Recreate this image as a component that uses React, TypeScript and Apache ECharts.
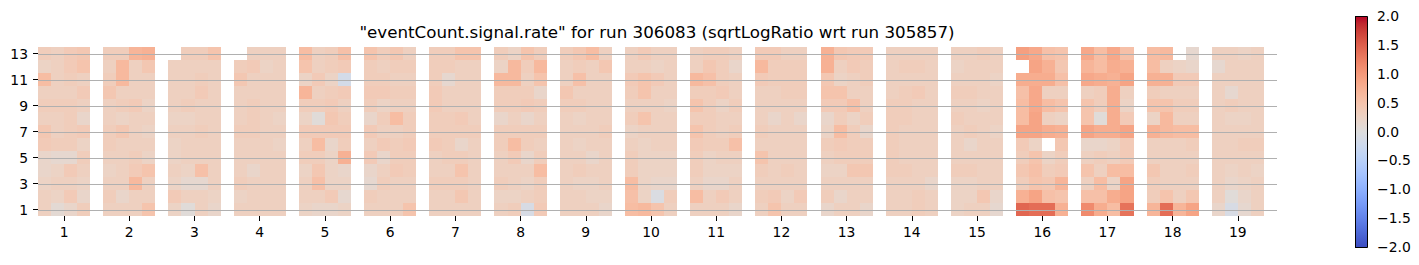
import React, { useEffect, useRef } from "react";
import * as echarts from "echarts";

const titleText = '"eventCount.signal.rate" for run 306083 (sqrtLogRatio wrt run 305857)';
const xLabels = ["1","2","3","4","5","6","7","8","9","10","11","12","13","14","15","16","17","18","19"];
const yTickValues = [1, 3, 5, 7, 9, 11, 13];
const colorbarTicks = [-2, -1.5, -1, -0.5, 0, 0.5, 1, 1.5, 2];
const colsPerGroup = 4;
const slotsPerGroup = 5;
const nRows = 13;

// each group: rows 13 (top) down to 1, 4 columns each; null = missing cell
const G1 = [[0.35,0.3,0.4,0.45],[0.25,0.3,0.4,0.5],[0.6,0.3,0.35,0.3],[0.3,0.3,0.3,0.4],[0.35,0.35,0.35,0.3],[0.3,0.3,0.35,0.2],[0.45,0.3,0.35,0.4],[0.4,0.35,0.35,0.25],[0.2,0.15,0.15,0.35],[0.2,0.25,0.4,0.3],[0.25,0.3,0.3,0.25],[0.3,0.25,0.4,0.2],[0.3,0.1,0.2,0.35]];
const G2 = [[0.35,0.35,0.7,0.75],[0.3,0.65,0.3,0.45],[0.35,0.65,0.3,0.3],[0.45,0.3,0.3,0.3],[0.3,0.35,0.4,0.25],[0.3,0.25,0.3,0.3],[0.35,0.45,0.3,0.25],[0.35,0.3,0.3,0.3],[0.3,0.3,0.35,0.25],[0.25,0.3,0.4,0.5],[0.3,0.3,0.65,0.3],[0.35,0.2,0.3,0.3],[0.3,0.3,0.3,0.5]];
const G3 = [[null,0.35,0.35,0.5],[0.3,0.3,0.3,0.3],[0.3,0.3,0.35,0.3],[0.3,0.3,0.4,0.3],[0.3,0.35,0.3,0.3],[0.25,0.25,0.3,0.3],[0.3,0.3,0.35,0.3],[0.25,0.3,0.3,0.3],[0.25,0.3,0.3,0.3],[0.3,0.25,0.55,0.3],[0.25,0.15,0.15,0.3],[0.4,0.3,0.3,0.25],[0.25,0.05,0.3,0.2]];
const G4 = [[null,0.3,0.3,0.3],[0.35,0.4,0.25,0.3],[0.45,0.3,0.3,0.3],[0.3,0.3,0.3,0.3],[0.3,0.35,0.3,0.3],[0.3,0.35,0.3,0.25],[0.35,0.35,0.3,0.3],[0.3,0.3,0.3,0.25],[0.3,0.3,0.3,0.3],[0.3,0.2,0.3,0.3],[0.35,0.3,0.3,0.3],[0.25,0.3,0.3,0.3],[0.3,0.3,0.3,0.3]];
const G5 = [[0.6,0.3,0.35,0.55],[0.5,0.3,0.35,0.4],[0.25,0.4,0.25,-0.15],[0.7,0.3,0.35,0.4],[0.35,0.35,0.4,0.3],[0.25,0.05,0.45,0.35],[0.4,0.4,0.4,0.4],[0.3,0.6,0.2,0.35],[0.35,0.35,0.25,0.75],[0.25,0.45,0.25,0.2],[0.3,0.55,0.25,0.25],[0.3,0.3,0.4,0.15],[0.25,0.2,0.2,0.25]];
const G6 = [[0.5,0.35,0.45,0.3],[0.35,0.3,0.35,0.35],[0.35,0.35,0.3,0.3],[0.4,0.4,0.35,0.35],[0.35,0.25,0.3,0.3],[0.2,0.35,0.6,0.35],[0.4,0.3,0.3,0.35],[0.3,0.4,0.35,0.4],[0.4,0.2,0.35,0.35],[0.2,0.3,0.4,0.35],[0.15,0.35,0.3,0.3],[0.35,0.3,0.3,0.3],[0.3,0.3,0.3,0.5]];
const G7 = [[0.35,0.35,0.5,0.5],[0.35,0.35,0.3,0.3],[0.35,0.15,0.3,0.3],[0.4,0.3,0.3,0.3],[0.4,0.3,0.3,0.3],[0.35,0.35,0.4,0.3],[0.35,0.35,0.35,0.35],[0.4,0.35,0.2,0.3],[0.3,0.35,0.35,0.3],[0.3,0.3,0.5,0.3],[0.35,0.35,0.35,0.3],[0.3,0.3,0.45,0.3],[0.3,0.3,0.3,0.3]];
const G8 = [[0.35,0.25,0.5,0.35],[0.25,0.65,0.35,0.65],[0.65,0.65,0.3,0.5],[0.35,0.35,0.35,0.2],[0.35,0.35,0.4,0.35],[0.2,0.3,0.2,0.3],[0.35,0.35,0.35,0.35],[0.35,0.6,0.35,0.3],[0.3,0.4,0.2,0.35],[0.3,0.3,0.3,0.6],[0.35,0.3,0.25,0.35],[0.25,0.25,0.3,0.35],[0.3,0.35,-0.1,0.4]];
const G9 = [[0.35,0.45,0.6,0.3],[0.3,0.35,0.3,0.45],[0.3,0.55,0.3,0.3],[0.45,0.3,0.3,0.3],[0.35,0.35,0.3,0.3],[0.3,0.25,0.3,0.3],[0.3,0.3,0.3,0.35],[0.3,0.25,0.3,0.3],[0.3,0.3,0.2,0.3],[0.3,0.35,0.3,0.3],[0.3,0.25,0.25,0.3],[0.3,0.3,0.25,0.25],[0.3,0.3,0.3,0.2]];
const G10 = [[0.3,0.4,0.3,0.3],[0.3,0.3,0.25,0.3],[0.4,0.5,0.4,0.3],[0.35,0.5,0.3,0.3],[0.3,0.3,0.3,0.25],[0.35,0.5,0.3,0.3],[0.25,0.3,0.3,0.3],[0.3,0.25,0.3,0.3],[0.35,0.25,0.25,0.25],[0.35,0.25,0.25,0.25],[0.6,0.25,0.2,0.2],[0.55,0.25,-0.05,0.35],[0.6,0.65,0.5,0.3]];
const G11 = [[0.3,0.35,0.35,0.3],[0.3,0.45,0.35,0.2],[0.65,0.55,0.35,0.3],[0.35,0.35,0.4,0.3],[0.5,0.35,0.25,0.35],[0.35,0.35,0.3,0.3],[0.5,0.35,0.3,0.35],[0.4,0.35,0.35,0.55],[0.35,0.25,0.3,0.3],[0.35,0.25,0.25,0.25],[0.3,0.2,0.2,0.3],[0.6,0.3,0.4,0.3],[0.3,0.3,0.3,0.2]];
const G12 = [[0.4,0.4,0.3,0.3],[0.65,0.35,0.35,0.35],[0.4,0.35,0.35,0.35],[0.3,0.3,0.35,0.35],[0.3,0.3,0.3,0.3],[0.3,0.2,0.3,0.2],[0.35,0.3,0.3,0.3],[0.3,0.3,0.3,0.3],[0.5,0.3,0.3,0.3],[0.35,0.3,0.35,0.3],[0.3,0.3,0.3,0.3],[0.35,0.4,0.25,0.4],[0.3,0.5,0.3,0.3]];
const G13 = [[0.75,0.45,0.4,0.4],[0.75,0.3,0.4,0.35],[0.45,0.25,0.3,0.35],[0.5,0.5,0.3,0.3],[0.4,0.4,0.55,0.3],[0.2,0.35,0.25,0.35],[0.25,0.6,0.35,0.2],[0.35,0.4,0.35,0.35],[0.3,0.35,0.35,0.35],[0.25,0.25,0.45,0.45],[0.3,0.3,0.3,0.3],[0.35,0.2,0.3,0.3],[0.2,0.3,0.3,0.2]];
const G14 = [[0.3,0.3,0.3,0.3],[0.3,0.35,0.35,0.3],[0.3,0.3,0.3,0.3],[0.3,0.35,0.4,0.3],[0.35,0.35,0.3,0.3],[0.35,0.35,0.3,0.3],[0.35,0.3,0.3,0.3],[0.35,0.3,0.3,0.3],[0.35,0.3,0.3,0.3],[0.35,0.35,0.3,0.3],[0.3,0.3,0.3,0.2],[0.3,0.3,0.35,0.3],[0.3,0.3,0.35,0.3]];
const G15 = [[0.3,0.3,0.35,0.3],[0.25,0.3,0.3,0.3],[0.3,0.3,0.3,0.25],[0.35,0.35,0.3,0.3],[0.3,0.3,0.25,0.3],[0.35,0.3,0.3,0.3],[0.3,0.35,0.3,0.25],[0.3,0.2,0.3,0.3],[0.3,0.3,0.3,0.3],[0.35,0.35,0.3,0.3],[0.25,0.25,0.3,0.3],[0.25,0.25,0.45,0.2],[0.25,0.3,0.3,0.15]];
const G16 = [[0.95,0.85,0.55,0.5],[null,0.9,0.75,0.45],[0.8,0.8,0.8,0.55],[0.55,0.85,0.3,0.3],[0.6,0.85,0.6,0.5],[0.6,0.9,0.3,0.25],[0.9,0.9,0.8,0.75],[0.4,0.25,null,0.45],[0.35,0.5,0.25,0.35],[0.45,0.55,0.35,0.4],[0.35,0.5,0.45,0.7],[0.75,0.9,0.55,0.5],[1.45,1.4,1.4,0.75]];
const G17 = [[0.85,0.6,0.85,0.55],[0.7,0.6,0.8,0.75],[0.85,0.8,0.75,0.9],[0.3,0.35,0.8,0.3],[0.5,0.35,0.8,0.25],[0.5,0.05,0.8,0.4],[0.9,0.8,0.8,0.9],[0.2,0.2,0.25,0.4],[0.3,0.35,0.3,0.4],[0.5,0.3,0.6,0.6],[0.3,0.6,0.25,0.9],[0.55,0.55,0.8,0.9],[1.15,0.8,0.6,1.35]];
const G18 = [[0.6,0.65,null,0.15],[0.6,0.3,0.25,0.2],[0.75,0.75,0.4,0.4],[0.35,0.3,0.3,0.3],[0.5,0.5,0.35,0.35],[0.25,0.65,0.3,0.3],[0.75,0.65,0.6,0.6],[0.3,0.3,0.3,0.35],[0.3,0.3,0.3,0.3],[0.45,0.3,0.3,0.35],[0.35,0.3,0.3,0.3],[0.35,0.5,0.3,0.45],[0.7,1.4,0.7,0.9]];
const G19 = [[0.3,0.3,0.25,0.3],[0.15,0.3,0.3,0.3],[0.3,0.3,0.3,0.3],[0.3,0.15,0.3,0.3],[0.3,0.35,0.3,0.3],[0.3,0.25,0.25,0.3],[0.3,0.3,0.3,0.3],[0.3,0.3,0.35,0.35],[0.3,0.3,0.3,0.3],[0.3,0.25,0.3,0.25],[0.3,0.2,0.25,0.3],[0.3,0.05,0.2,0.3],[0.2,-0.1,0.15,0.3]];

const groups = [G1,G2,G3,G4,G5,G6,G7,G8,G9,G10,G11,G12,G13,G14,G15,G16,G17,G18,G19];

// matplotlib coolwarm (Moreland) control points, low -> high
const coolwarm = [
  "rgb(59,76,192)","rgb(68,90,204)","rgb(77,104,215)","rgb(87,117,225)","rgb(98,130,234)",
  "rgb(108,142,241)","rgb(119,154,247)","rgb(130,165,251)","rgb(141,176,254)","rgb(152,185,255)",
  "rgb(163,194,255)","rgb(174,201,253)","rgb(184,208,249)","rgb(194,213,244)","rgb(204,217,238)",
  "rgb(213,219,230)","rgb(221,221,221)","rgb(229,216,209)","rgb(236,211,197)","rgb(241,204,185)",
  "rgb(245,196,173)","rgb(247,187,160)","rgb(247,177,148)","rgb(247,166,135)","rgb(244,154,123)",
  "rgb(241,141,111)","rgb(236,127,99)","rgb(229,112,88)","rgb(222,96,77)","rgb(213,80,66)",
  "rgb(203,62,56)","rgb(192,40,47)","rgb(180,4,38)"
];

const FONT = "DejaVu Sans";
const TICK_FONT = 13.9;
const TITLE_FONT = 16.7;

export default function App() {
  const ref = useRef<HTMLDivElement>(null);
  useEffect(() => {
    if (!ref.current) return;
    const chart = echarts.init(ref.current, null, { renderer: "svg" });

    const cells: number[][] = [];
    groups.forEach((g, gi) => {
      g.forEach((row, ri) => {
        row.forEach((v, c) => {
          if (v === null || v === undefined) return;
          cells.push([gi * slotsPerGroup + c, nRows - ri, v as number]);
        });
      });
    });
    const xMax = groups.length * slotsPerGroup;
    const xCenters = xLabels.map((_, i) => i * slotsPerGroup + colsPerGroup / 2);

    const stops = coolwarm
      .slice()
      .reverse()
      .map((c, i) => ({ offset: i / (coolwarm.length - 1), color: c }));

    chart.setOption({
      animation: false,
      backgroundColor: "#ffffff",
      title: {
        text: titleText,
        left: 657,
        textAlign: "center",
        top: 22,
        padding: 0,
        textStyle: { fontFamily: FONT, fontSize: TITLE_FONT, fontWeight: "normal", color: "#000", lineHeight: 20 },
      },
      visualMap: {
        show: false,
        type: "continuous",
        min: -2,
        max: 2,
        dimension: 2,
        seriesIndex: 0,
        inRange: { color: coolwarm },
      },
      grid: [
        { left: 38, top: 47, width: 1239, height: 169 },
        { left: 1355, top: 16, width: 12, height: 231 },
      ],
      xAxis: [
        {
          type: "value",
          gridIndex: 0,
          min: 0,
          max: xMax,
          axisLine: { show: false },
          splitLine: { show: false },
          axisTick: { show: true, customValues: xCenters, length: 5, lineStyle: { color: "#000", width: 1 } },
          axisLabel: {
            show: true,
            customValues: xCenters,
            formatter: (v: number) => xLabels[Math.round((v - colsPerGroup / 2) / slotsPerGroup)] ?? "",
            fontFamily: FONT,
            fontSize: TICK_FONT,
            color: "#000",
            margin: 9,
          },
        },
        { type: "value", gridIndex: 1, min: 0, max: 1, show: false },
      ],
      yAxis: [
        {
          type: "value",
          gridIndex: 0,
          min: 0.5,
          max: nRows + 0.5,
          axisLine: { show: false },
          splitLine: { show: false },
          axisTick: { show: true, customValues: yTickValues, length: 5, lineStyle: { color: "#000", width: 1 } },
          axisLabel: {
            show: true,
            customValues: yTickValues,
            formatter: (v: number) => String(v),
            fontFamily: FONT,
            fontSize: TICK_FONT,
            color: "#000",
            margin: 10,
          },
        },
        {
          type: "value",
          gridIndex: 1,
          min: -2,
          max: 2,
          position: "right",
          axisLine: { show: false },
          splitLine: { show: false },
          axisTick: { show: true, customValues: colorbarTicks, length: 5, lineStyle: { color: "#000", width: 1 } },
          axisLabel: {
            show: true,
            customValues: colorbarTicks,
            formatter: (v: number) => v.toFixed(1).replace("-", "\u2212"),
            fontFamily: FONT,
            fontSize: TICK_FONT,
            color: "#000",
            margin: 10,
          },
        },
      ],
      series: [
        {
          type: "custom",
          xAxisIndex: 0,
          yAxisIndex: 0,
          dimensions: ["x", "y", "v"],
          encode: { x: 0, y: 1 },
          data: cells,
          silent: true,
          renderItem: (params: any, api: any) => {
            const x = api.value(0);
            const y = api.value(1);
            const p0 = api.coord([x, y + 0.5]);
            const p1 = api.coord([x + 1, y - 0.5]);
            const x0 = Math.round(p0[0]);
            const y0 = Math.round(p0[1]);
            const x1 = Math.round(p1[0]);
            const y1 = Math.round(p1[1]);
            return {
              type: "rect",
              shape: { x: x0, y: y0, width: x1 - x0, height: y1 - y0 },
              style: { fill: api.visual("color") },
            };
          },
          z: 2,
        },
        {
          type: "custom",
          xAxisIndex: 0,
          yAxisIndex: 0,
          data: yTickValues.map((v) => [v]),
          encode: { y: 0 },
          silent: true,
          renderItem: (params: any, api: any) => {
            const v = api.value(0);
            const a = api.coord([0, v]);
            const b = api.coord([xMax, v]);
            const yy = Math.round(a[1]) + 0.5;
            return {
              type: "line",
              shape: { x1: a[0], y1: yy, x2: b[0], y2: yy },
              style: { stroke: "#b0b0b0", lineWidth: 1 },
            };
          },
          z: 5,
        },
        {
          type: "custom",
          xAxisIndex: 1,
          yAxisIndex: 1,
          data: [[0, 0]],
          silent: true,
          renderItem: (params: any, api: any) => {
            const p0 = api.coord([0, 2]);
            const p1 = api.coord([1, -2]);
            return {
              type: "rect",
              shape: { x: Math.round(p0[0]) + 0.5, y: Math.round(p0[1]) + 0.5, width: Math.round(p1[0] - p0[0]), height: Math.round(p1[1] - p0[1]) },
              style: {
                fill: new echarts.graphic.LinearGradient(0, 0, 0, 1, stops),
                stroke: "#000",
                lineWidth: 1,
              },
            };
          },
        },
      ],
    });
    return () => chart.dispose();
  }, []);
  return <div ref={ref} style={{ position: "fixed", left: 0, top: 0, width: 1419, height: 265 }} />;
}
